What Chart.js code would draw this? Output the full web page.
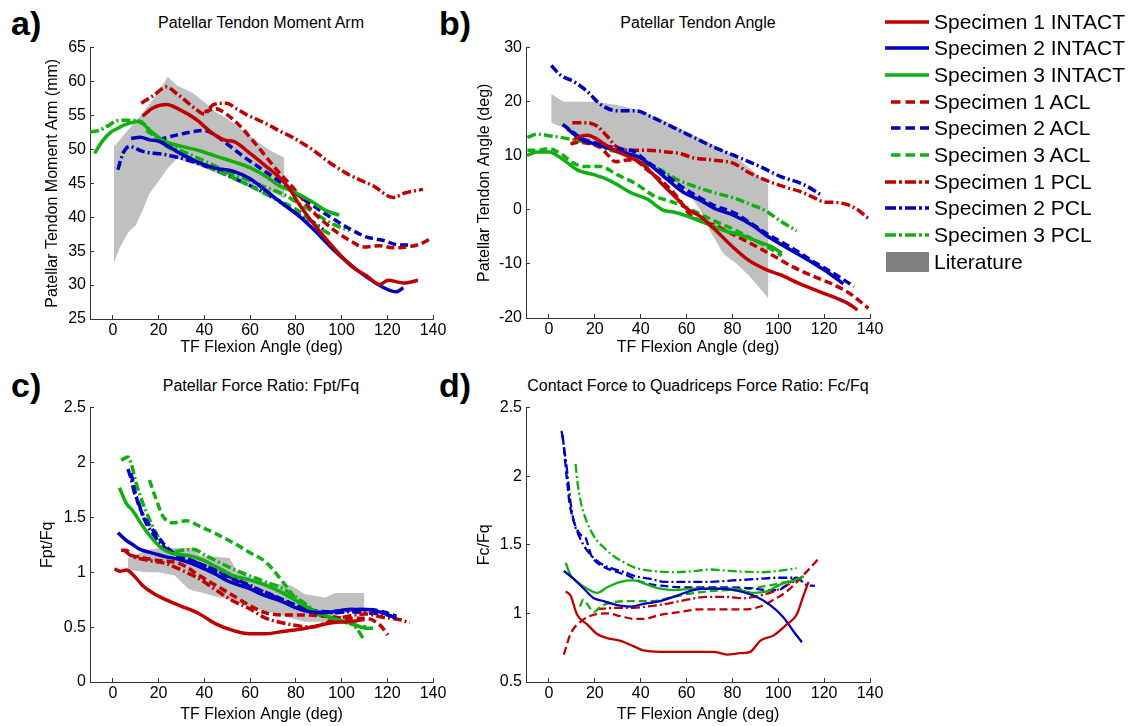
<!DOCTYPE html>
<html>
<head>
<meta charset="utf-8">
<title>Patellar tendon results</title>
<script src="https://cdn.jsdelivr.net/npm/chart.js@4.4.0/dist/chart.umd.min.js"></script>
<style>
    body { margin: 0; background: #fff; width: 1139px; height: 726px; overflow: hidden; position: relative;
           font-family: "Liberation Sans", Arial, sans-serif; color: #000; }
    canvas, .panel-label, .panel-title, .legend-row { position: absolute; }
    .panel-label { font-weight: bold; font-size: 34px; line-height: 34px; }
    .panel-title { font-size: 16px; line-height: 16px; white-space: nowrap; transform: translateX(-50%); }
    .legend-row { left: 885px; height: 26px; display: flex; align-items: center; font-size: 21px; white-space: nowrap; }
    .legend-row svg { margin-right: 3px; }
</style>
</head>
<body>
<div class="panel-label" style="left:11px;top:6px">a)</div>
<div class="panel-label" style="left:439px;top:6px">b)</div>
<div class="panel-label" style="left:11px;top:368px">c)</div>
<div class="panel-label" style="left:439px;top:368px">d)</div>

<div class="panel-title" style="left:261px;top:15px">Patellar Tendon Moment Arm</div>
<div class="panel-title" style="left:698px;top:15px">Patellar Tendon Angle</div>
<div class="panel-title" style="left:261px;top:378px">Patellar Force Ratio: Fpt/Fq</div>
<div class="panel-title" style="left:698px;top:378px">Contact Force to Quadriceps Force Ratio: Fc/Fq</div>

<canvas id="chartA" width="417" height="327" style="left:43px;top:30px"></canvas>
<canvas id="chartB" width="422" height="327" style="left:475px;top:30px"></canvas>
<canvas id="chartC" width="422" height="334" style="left:38px;top:390px"></canvas>
<canvas id="chartD" width="422" height="334" style="left:475px;top:390px"></canvas>

<div id="legend"></div>

<script>
// ---- Series names and shared tick labels ----
const seriesNames = ['Specimen 1 INTACT', 'Specimen 2 INTACT', 'Specimen 3 INTACT',
                     'Specimen 1 ACL', 'Specimen 2 ACL', 'Specimen 3 ACL',
                     'Specimen 1 PCL', 'Specimen 2 PCL', 'Specimen 3 PCL'];
const literatureName = 'Literature';
const flexionTicks = [0, 20, 40, 60, 80, 100, 120, 140];
const armTicks = [25, 30, 35, 40, 45, 50, 55, 60, 65];
const angleTicks = [-20, -10, 0, 10, 20, 30];
const fptTicks = [0, 0.5, 1, 1.5, 2, 2.5];
const fcTicks = [0.5, 1, 1.5, 2, 2.5];

// ---- a) Patellar tendon moment arm (mm) vs TF flexion (deg) ----
const armS1Intact = [[13,54.9],[17.5,56.1],[23.4,56.6],[29,55.9],[36.5,54.4],[43.8,52.3],[49.6,51.3],[52.5,51.2],[60,49.4],[67,47.5],[73,45.8],[77,44.3],[81.7,41.8],[90.4,37.9],[99.2,34.5],[105,32.6],[110.8,31.4],[116.7,30.1],[120.4,30.7],[127,30.3],[133.4,30.7]];
const armS2Intact = [[8,51.6],[12,51.8],[16,51.4],[20,51.2],[25,50.3],[30,49.3],[37.9,48],[45,47.2],[52.5,46.8],[59.8,45.7],[67,43.9],[73,42.3],[81.7,40.1],[87.5,38.3],[96.2,35.3],[106.4,32.3],[111,31.2],[118,29.7],[124,29],[127,29.6]];
const armS3Intact = [[-8,49.4],[-6,50.5],[-4.4,51.3],[-1,52.5],[1.5,53],[5,53.6],[8.8,54],[11.7,54.2],[16,52.8],[20,51.8],[23.3,51.1],[30.6,50.4],[37.9,49.8],[45,49],[52.5,48.2],[60,47.3],[67,46],[73,44.6],[80,43.6],[87.5,42.2],[93,41],[99,40.3]];
const armS1Acl = [[40,55.5],[45,56],[49.6,55.2],[55.4,53.5],[61.2,51.3],[67,48.9],[72.9,46.5],[76,45.4],[81.7,43.2],[87,41],[92,39.4],[99.2,37.5],[105,36.3],[109.4,35.6],[116.7,35.8],[122.5,35.5],[128.3,35.6],[134,36],[139.2,36.9]];
const armS2Acl = [[20,51.4],[27.7,52.1],[35,52.6],[39.4,52.8],[43.8,52.3],[49.6,50.9],[56.9,49],[64.2,47.3],[71.5,45.6],[78.8,43.8],[87.5,41.7],[96.2,39.8],[103.5,38.3],[110.8,37.1],[118,36.6],[125.4,35.9],[130,35.9]];
const armS3Acl = [[14.6,52.8],[19,51.8],[23.3,50.5],[30.6,49.3],[37.9,48],[45,46.9],[52.5,45.8],[60,44.6],[67,43.4],[74.4,42.2],[81.7,40.8],[87,39.3],[90.4,38.4],[95.5,37.4]];
const armS1Pcl = [[12.4,56.8],[18,58],[23.4,59.2],[28,58.2],[32,57.1],[36,56],[40,55.2],[44,56.6],[49.6,56.8],[54,56],[58,55.2],[67,53.8],[73,52.7],[79,51.7],[87.5,49.9],[95,48],[102,46.5],[108,45.5],[114,44.6],[122.5,42.9],[128,43.6],[135.6,44.1]];
const armS2Pcl = [[2.2,47],[4.4,49.4],[7.3,50.4],[13,49.7],[23.3,49.2],[32,48.5],[42.3,47.3],[52.5,45.8],[62.8,44.2],[73,42.3],[81.7,40.3],[87.5,39.3],[92,38.2]];
const armS3Pcl = [[-10,52.6],[-6,52.8],[-2,53.5],[1.5,54.2],[5,54.3],[8.8,54.3],[13,53.8],[18.9,52],[23.3,50.8],[30,49.8],[37.9,48.6],[45,47.5],[52.5,46.3],[60,45.4],[67,44.4],[74.4,43.4],[80,42.3],[87.5,40.8],[95,39.2],[103.5,38]];
const armLitX  = [0.5, 3, 7, 10, 13, 16, 20, 24, 28, 35, 40, 45, 50, 55, 60, 65, 70, 75];
const armLitHi = [50.4, 51.4, 53, 54.1, 55.4, 56.7, 58.5, 60.7, 59.4, 58.3, 57, 55.5, 54.5, 53.3, 52, 50.7, 49.6, 48.8];
const armLitLo = [33.3, 35.5, 37.9, 38.8, 41, 43.5, 45.3, 47.2, 48.6, 47.8, 47.3, 46.6, 46, 45.4, 44.8, 44.2, 43.6, 42.7];

// ---- b) Patellar tendon angle (deg) ----
const angS1Intact = [[11,13],[14,13.6],[17,13.8],[20,13.3],[24,12.2],[28,11.1],[34,10],[40,8.7],[44,7.2],[48.6,5.1],[55.8,2.1],[60.2,0.2],[66,-1.2],[71.8,-3.4],[80.5,-7],[87,-9.3],[95,-11.1],[100.8,-12],[109.5,-13.7],[116,-14.8],[124,-16.1],[130,-17.2],[134.5,-18.5]];
const angS2Intact = [[8,15],[13.8,13.1],[19,12.3],[25,11.5],[30,10.9],[35,10.3],[40,9.6],[45,8],[50,6.2],[58.8,3.2],[66,1.8],[72,0.3],[80.5,-1],[89.2,-3],[95,-4.8],[103.7,-7],[109.5,-8.4],[115,-9.8],[121.1,-11.4],[128.4,-13.7]];
const angS3Intact = [[-9.4,10.1],[-5.1,10.7],[0,10.7],[2.2,10.4],[6.5,9.2],[12.3,7.4],[19.6,6.5],[23.9,5.9],[29.7,4.7],[35.5,3.2],[42.8,2],[50,-0.1],[54.4,-0.4],[63.1,-1.6],[71.8,-3.1],[77.6,-4],[83.4,-4.6],[90.7,-5.8],[97.9,-7],[101.5,-8]];
const angS1Acl = [[9.4,12.2],[13,12.5],[18,12.2],[22.5,11.5],[26,10],[29,8.9],[34,9.2],[37,9.2],[42.8,7.4],[50,5],[55.9,2.4],[61.7,-1],[67.5,-2.2],[72,-2.8],[80.5,-4.6],[89.2,-6.5],[97.9,-8.5],[106.6,-10.6],[115.3,-12.3],[124,-13.8],[131.3,-15.5],[139.3,-18.2]];
const angS2Acl = [[6,15.8],[10,14.5],[14,13.3],[19,12.5],[25,11.8],[32,11.2],[37,10.8],[42,9.2],[50,6.8],[58.8,4],[66,2.2],[72,0.8],[80.5,-0.5],[89.2,-2.8],[95,-4.4],[103.7,-6.5],[109.5,-8],[115,-9.5],[121.1,-11],[127,-12.5],[133,-14.2]];
const angS3Acl = [[-9.4,11],[-5.1,11],[0,11.3],[5.1,10.4],[10.9,8.6],[15.2,8],[22.5,8],[29.7,6.5],[38.4,4.7],[45.7,2.6],[54.4,1.4],[63.1,-0.2],[71.8,-2],[80.5,-3.6],[89.2,-5.5],[97.9,-7.5],[101.5,-8.5]];
const angS1Pcl = [[10.2,16.1],[16.7,16.1],[21,15.5],[25.4,13.6],[29.7,11.6],[37,11],[42.8,11],[51.5,10.7],[57.3,10.4],[63.1,9.6],[71.8,9.2],[80.5,8.6],[86.3,7.1],[95,5.4],[103.7,4.1],[109.5,3.4],[113.9,2.6],[121.1,1.4],[124,1.4],[129.8,1],[134,0.2],[139.3,-1.6]];
const angS2Pcl = [[1,26.7],[5.1,24.9],[10.9,23.7],[16.7,21.9],[22.5,19.5],[29.7,18.3],[38.4,18.3],[44.2,17.3],[54.4,15.2],[63.1,13.4],[71.8,11.6],[80.5,10.1],[92.1,8],[100.8,6.2],[111,4.7],[118.2,2.9]];
const angS3Pcl = [[-9.4,13.4],[-5.1,14],[0,13.7],[5.1,13.4],[12.3,12.8],[19.6,12.2],[26.8,11],[34.1,10.4],[41.3,8.6],[48.6,7.4],[55.9,5.6],[63.1,4.4],[71.8,3.2],[80.5,2.2],[89.2,0.8],[95,-0.3],[100,-1.8],[108,-3.9]];
const angLitX  = [1, 6.5, 10, 20, 30, 40, 50, 60, 66, 70.4, 76.2, 82, 87.8, 95.7];
const angLitHi = [21.4, 20, 20, 20, 19.4, 18.3, 16.5, 14.5, 13.2, 12.3, 11, 9.6, 7.6, 4.6];
const angLitLo = [16.1, 15.2, 14.5, 12.5, 11, 9, 6.5, 3.5, 0, -4, -8.2, -10, -12.4, -16.4];

// ---- c) Patellar force ratio Fpt/Fq ----
const fptS1Intact = [[0.7,1.03],[3,1.01],[6,1.02],[8.7,0.98],[13,0.88],[17.5,0.81],[23,0.75],[30,0.69],[37.9,0.62],[45,0.53],[52.5,0.47],[59.8,0.44],[67,0.44],[74.4,0.46],[81.7,0.48],[89,0.51],[96,0.54],[103.5,0.55],[110,0.57]];
const fptS2Intact = [[2.2,1.36],[5.8,1.29],[9.5,1.24],[11.7,1.21],[18.2,1.17],[23.3,1.14],[28.4,1.12],[35.7,1.07],[40,1.03],[45.2,0.98],[50.3,0.92],[59.8,0.85],[64.9,0.8],[74.4,0.73],[79.5,0.68],[86,0.64],[91.2,0.63],[96.2,0.64],[103.5,0.66],[110.8,0.66],[118,0.63],[124,0.58]];
const fptS3Intact = [[2.9,1.77],[5.8,1.63],[8.7,1.56],[13.1,1.42],[17.5,1.3],[21.9,1.21],[26.2,1.17],[33.5,1.15],[39.4,1.11],[45.2,1.05],[52.5,0.97],[59.8,0.93],[67,0.88],[74.4,0.81],[81.7,0.72],[89,0.64],[96.2,0.58],[103.5,0.54],[110.8,0.49],[113.8,0.49]];
const fptS1Acl = [[3.6,1.2],[5.7,1.2],[8.7,1.15],[11.5,1.14],[16,1.12],[23.2,1.1],[27.7,1.09],[32,1.05],[37.8,0.97],[45.1,0.88],[52.4,0.79],[59.6,0.7],[66.9,0.63],[75.7,0.61],[84.4,0.61],[93.2,0.6],[103.5,0.58],[110.8,0.58],[116.7,0.52],[120.3,0.43]];
const fptS2Acl = [[8,1.9],[9.5,1.75],[11,1.63],[13,1.53],[15,1.46],[18,1.37],[21,1.29],[23,1.24],[27,1.17],[33,1.12],[40,1.06],[50,0.96],[60,0.87],[70,0.79],[80,0.7],[88,0.65],[96,0.64],[104,0.66],[112,0.66],[118,0.64],[124,0.6]];
const fptS3Acl = [[16,1.84],[19,1.66],[21.9,1.51],[26.2,1.45],[32.1,1.47],[37.9,1.42],[45.2,1.35],[52.5,1.27],[59.8,1.18],[67,1.09],[74.4,0.91],[78.8,0.79],[84.6,0.67],[90.4,0.61],[96.2,0.58],[103.5,0.53],[110.8,0.5]];
const fptS1Pcl = [[5,1.2],[8,1.15],[15,1.11],[23,1.08],[30,1.02],[37.8,0.94],[45,0.84],[52.4,0.74],[59.6,0.67],[67,0.58],[74,0.54],[81.6,0.51],[87,0.5],[91,0.52],[96,0.56],[103,0.6],[110.8,0.62],[118,0.59],[125,0.57],[129.8,0.54]];
const fptS2Pcl = [[6.6,1.94],[8,1.85],[9.5,1.72],[11,1.65],[13,1.52],[15,1.43],[17.5,1.35],[20,1.28],[23,1.22],[27,1.17],[30.6,1.13],[35,1.1],[40,1.06],[45,1.02],[52,0.95],[60,0.88],[67,0.81],[75,0.74],[82,0.68],[89,0.64],[96,0.63],[103.5,0.64],[110,0.63],[118,0.62],[122,0.6]];
const fptS3Pcl = [[3.6,2.02],[6.6,2.05],[8,1.99],[10.2,1.81],[13.1,1.63],[16,1.48],[20.4,1.3],[24.8,1.18],[30.6,1.2],[35,1.21],[40.8,1.15],[52.5,1.03],[67,0.91],[74.4,0.85],[81.7,0.75],[89,0.64],[94.8,0.58],[102.1,0.55],[106.5,0.49],[109.4,0.4]];
const fptLitX  = [6.6, 15, 20, 27, 33, 35.5, 38, 45, 51, 54, 60, 65, 70, 78, 84, 93, 97, 110];
const fptLitHi = [1.13, 1.2, 1.22, 1.22, 1.22, 1.22, 1.15, 1.14, 1.13, 1.02, 0.95, 0.91, 0.9, 0.88, 0.8, 0.77, 0.81, 0.81];
const fptLitLo = [1.02, 1.0, 1.0, 0.97, 0.85, 0.83, 0.82, 0.78, 0.75, 0.73, 0.68, 0.65, 0.63, 0.58, 0.55, 0.55, 0.6, 0.68];

// ---- d) Contact force to quadriceps force ratio Fc/Fq ----
const fcS1Intact = [[7.3,1.16],[9.4,1.13],[12.3,0.99],[16.7,0.92],[21,0.85],[25.4,0.82],[31.2,0.8],[37,0.76],[41.3,0.73],[48.6,0.72],[63.1,0.72],[71.8,0.72],[77.6,0.7],[83.4,0.71],[87.8,0.72],[92.1,0.8],[98,0.84],[103.7,0.92],[108,0.99],[111,1.13],[113.2,1.23]];
const fcS2Intact = [[6.5,1.31],[10.9,1.25],[15.2,1.18],[19.6,1.11],[23.9,1.09],[29.7,1.06],[35.5,1.05],[41.3,1.07],[48.6,1.09],[55.9,1.13],[63.1,1.17],[71.8,1.18],[80.5,1.17],[89.2,1.13],[96.5,1.06],[102.3,0.97],[106.6,0.87],[110.3,0.79]];
const fcS3Intact = [[7.3,1.37],[9.4,1.28],[12.3,1.23],[16.7,1.18],[21,1.15],[25.4,1.19],[31.2,1.23],[37,1.24],[42.8,1.21],[48.6,1.18],[54.4,1.17],[63.1,1.18],[71.8,1.18],[80.5,1.18],[89.2,1.15],[95,1.16],[100.8,1.21],[106.6,1.24],[111,1.27]];
const fcS1Acl = [[6.5,0.7],[9.4,0.85],[13.8,0.94],[19.6,0.99],[25.4,1.0],[31.2,0.98],[37,0.96],[41.3,0.96],[48.6,0.99],[57.3,1.01],[65.6,1.03],[77.6,1.03],[86.3,1.03],[92.1,1.05],[98,1.1],[103.7,1.16],[111,1.28],[118.2,1.41]];
const fcS2Acl = [[6,2.3],[7,2.12],[8,1.95],[9,1.8],[10,1.72],[12,1.62],[14,1.57],[16,1.55],[17,1.5],[18.5,1.42],[21,1.37],[25,1.33],[30,1.3],[35,1.27],[40,1.23],[50,1.2],[60,1.19],[70,1.19],[80,1.19],[90,1.18],[95,1.17],[100,1.17],[104,1.21],[108,1.27]];
const fcS3Acl = [[13.5,1.05],[15,1.1],[17,1.06],[19.6,1.01],[22.5,1.05],[28,1.08],[37,1.09],[45.7,1.09],[51.5,1.11],[60,1.14],[69,1.16],[77.6,1.17],[86,1.18],[95,1.2],[103.7,1.23],[110,1.25]];
const fcS1Pcl = [[21,1.03],[28.3,1.04],[37,1.04],[42.8,1.05],[51.5,1.07],[60.2,1.1],[68.9,1.12],[77.6,1.12],[84.9,1.11],[89.2,1.12],[98,1.16],[106.6,1.23],[111,1.27]];
const fcS2Pcl = [[5.5,2.33],[6.5,2.22],[7.5,2.1],[8.5,1.95],[9.5,1.8],[11,1.66],[13,1.57],[15,1.5],[18,1.43],[22,1.37],[27,1.33],[33,1.3],[38,1.27],[45,1.25],[50,1.23],[60,1.23],[70,1.23],[80,1.24],[90,1.25],[100,1.26],[108,1.26],[112,1.21],[116,1.2]];
const fcS3Pcl = [[11.6,2.09],[12.5,1.95],[13.8,1.82],[15,1.74],[16.7,1.66],[19,1.58],[21,1.53],[24,1.48],[28,1.42],[33,1.37],[38,1.33],[45,1.31],[55,1.3],[64,1.31],[70,1.32],[79,1.31],[93,1.3],[100,1.31],[108,1.33]];

// ---- Styling ----
const specimenColors = ['#c00000', '#0000c0', '#10b010'];
const plotDash = [[], [8, 4], [9, 3, 2, 3]];
const legendDash = ['', '9.5 5', '11 3 3 3'];
const legendDashStart = [0, 6, 0];
const literatureFill = '#c0c0c0';
const literatureLegendFill = '#808080';
const axisColor = '#333';

Chart.defaults.font.family = '"Liberation Sans", Arial, sans-serif';
Chart.defaults.color = '#000';

const toPoints = arr => arr.map(([x, y]) => ({ x, y }));

// Build one panel; layout numbers put the plot area where the original has it
function makePanel(id, cfg) {
    const datasets = cfg.series.map((s, i) => ({
        label: seriesNames[i],
        data: toPoints(s),
        borderColor: specimenColors[i % 3],
        borderDash: plotDash[Math.floor(i / 3)],
        borderWidth: cfg.lineWidth,
        pointRadius: 0,
        fill: false,
        cubicInterpolationMode: 'monotone',
        order: 1
    }));

    if (cfg.litX) {
        datasets.push({
            label: literatureName,
            data: cfg.litX.map((x, k) => ({ x, y: cfg.litHi[k] })),
            borderColor: 'rgba(0,0,0,0)',
            borderWidth: 0,
            pointRadius: 0,
            backgroundColor: literatureFill,
            fill: '+1',
            order: 10
        });
        datasets.push({
            label: literatureName + ' lower',
            data: cfg.litX.map((x, k) => ({ x, y: cfg.litLo[k] })),
            borderColor: 'rgba(0,0,0,0)',
            borderWidth: 0,
            pointRadius: 0,
            fill: false,
            order: 10
        });
    }

    const tickFont = { size: 16 };
    return new Chart(document.getElementById(id), {
        type: 'line',
        data: { datasets },
        options: {
            responsive: false,
            animation: false,
            events: [],
            layout: { padding: { left: 0, top: cfg.padTop, right: cfg.padRight, bottom: 0 } },
            plugins: { legend: { display: false }, tooltip: { enabled: false } },
            scales: {
                x: {
                    type: 'linear',
                    min: -10,
                    max: 140,
                    afterBuildTicks: s => { s.ticks = flexionTicks.map(v => ({ value: v })); },
                    afterFit: s => { s.height = cfg.xH; },
                    grid: { drawOnChartArea: false, tickLength: -4, color: axisColor },
                    border: { color: axisColor, width: 1 },
                    ticks: { padding: 6, font: tickFont, maxRotation: 0, autoSkip: false, callback: v => String(v) },
                    title: { display: true, text: 'TF Flexion Angle (deg)', font: { size: 16 }, padding: 0 }
                },
                y: {
                    type: 'linear',
                    min: cfg.yTicks[0],
                    max: cfg.yTicks[cfg.yTicks.length - 1],
                    afterBuildTicks: s => { s.ticks = cfg.yTicks.map(v => ({ value: v })); },
                    afterFit: s => { s.width = cfg.yW; },
                    grid: { drawOnChartArea: false, tickLength: -4, color: axisColor },
                    border: { color: axisColor, width: 1 },
                    ticks: { padding: 8, font: tickFont, autoSkip: false, callback: v => String(v) },
                    title: { display: true, text: cfg.yTitle, font: { size: 16 }, padding: 0 }
                }
            }
        }
    });
}

makePanel('chartA', {
    series: [armS1Intact, armS2Intact, armS3Intact, armS1Acl, armS2Acl, armS3Acl, armS1Pcl, armS2Pcl, armS3Pcl],
    litX: armLitX, litHi: armLitHi, litLo: armLitLo,
    yTicks: armTicks, yTitle: 'Patellar Tendon Moment Arm (mm)',
    lineWidth: 3.5, padTop: 12, padRight: 27, yW: 47, xH: 38
});
makePanel('chartB', {
    series: [angS1Intact, angS2Intact, angS3Intact, angS1Acl, angS2Acl, angS3Acl, angS1Pcl, angS2Pcl, angS3Pcl],
    litX: angLitX, litHi: angLitHi, litLo: angLitLo,
    yTicks: angleTicks, yTitle: 'Patellar Tendon Angle (deg)',
    lineWidth: 3.5, padTop: 12, padRight: 27, yW: 51, xH: 39
});
makePanel('chartC', {
    series: [fptS1Intact, fptS2Intact, fptS3Intact, fptS1Acl, fptS2Acl, fptS3Acl, fptS1Pcl, fptS2Pcl, fptS3Pcl],
    litX: fptLitX, litHi: fptLitHi, litLo: fptLitLo,
    yTicks: fptTicks, yTitle: 'Fpt/Fq',
    lineWidth: 3.5, padTop: 13, padRight: 27, yW: 52, xH: 42
});
makePanel('chartD', {
    series: [fcS1Intact, fcS2Intact, fcS3Intact, fcS1Acl, fcS2Acl, fcS3Acl, fcS1Pcl, fcS2Pcl, fcS3Pcl],
    yTicks: fcTicks, yTitle: 'Fc/Fq',
    lineWidth: 2.3, padTop: 13, padRight: 27, yW: 51, xH: 42
});

// ---- Legend (right of panel b) ----
function buildLegend() {
    const legend = document.getElementById('legend');
    const rowPitch = 26.67;
    const firstRow = 21.7;
    seriesNames.forEach((name, i) => {
        const cond = Math.floor(i / 3);
        const row = document.createElement('div');
        row.className = 'legend-row';
        row.style.top = (firstRow + i * rowPitch - 13) + 'px';
        const x0 = legendDashStart[cond];
        row.innerHTML =
            `<svg width="46" height="10"><line x1="${x0}" y1="5" x2="44" y2="5" stroke="${specimenColors[i % 3]}"` +
            ` stroke-width="3.3" stroke-dasharray="${legendDash[cond]}"/></svg><span>${name}</span>`;
        legend.appendChild(row);
    });
    const lit = document.createElement('div');
    lit.className = 'legend-row';
    lit.style.top = (firstRow + 9 * rowPitch - 13) + 'px';
    lit.innerHTML = `<svg width="46" height="20"><rect x="1" y="0" width="43" height="20" fill="${literatureLegendFill}"/></svg><span>${literatureName}</span>`;
    legend.appendChild(lit);
}
buildLegend();
</script>
</body>
</html>
